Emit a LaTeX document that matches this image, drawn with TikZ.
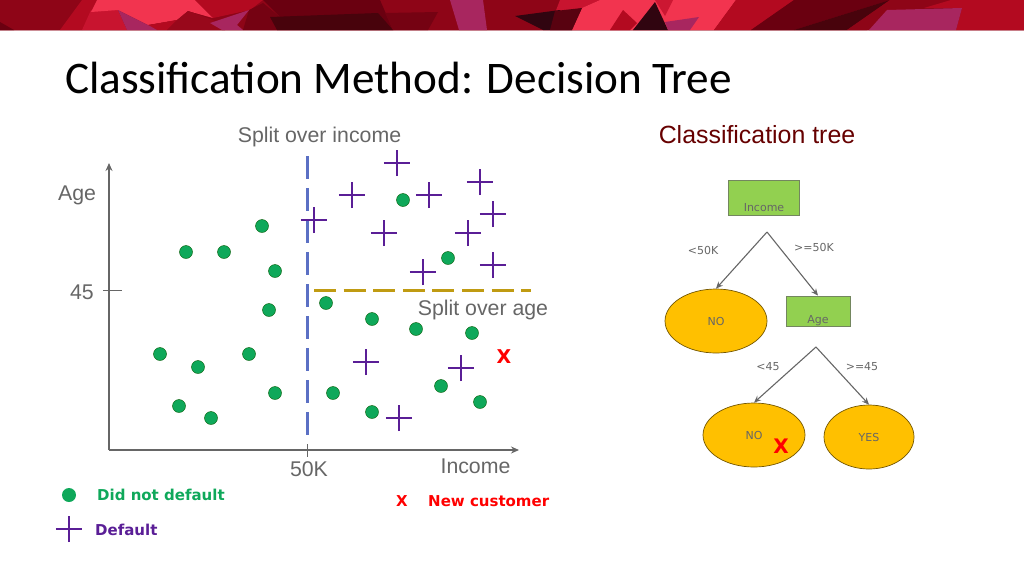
\documentclass[tikz,border=0pt]{standalone}
\usepackage{fontspec}
\setmainfont{Liberation Sans}
\newfontfamily\titlefont{Carlito}
\newfontfamily\treefont{DejaVu Sans}
\usetikzlibrary{shapes.geometric,shapes.misc,arrows.meta}
\definecolor{greyaxis}{HTML}{666666}
\definecolor{dotgreen}{HTML}{0FA85A}
\definecolor{plusviolet}{HTML}{5A1E96}
\definecolor{splitblue}{HTML}{5B70C4}
\definecolor{splitgold}{HTML}{C09B12}
\definecolor{boxgreen}{HTML}{92D050}
\definecolor{leafgold}{HTML}{FFC000}
\definecolor{bandbase}{HTML}{8E0517}
\definecolor{bandbright}{HTML}{F2344F}
\definecolor{bandred}{HTML}{B30A20}
\definecolor{bandcrim}{HTML}{C8142F}
\definecolor{bandpurple}{HTML}{A8265F}
\definecolor{banddark}{HTML}{6A0010}
\definecolor{banddeep}{HTML}{48030C}
\definecolor{bandblack}{HTML}{300510}
\tikzset{
  dot/.style = {shape=circle, draw=green!35!black, fill=dotgreen, line width=0.4pt, minimum size=13pt, inner sep=0pt},
  plus/.style = {shape=cross out, rotate=45, draw=plusviolet, line width=2pt, minimum size=18.4pt, inner sep=0pt, outer sep=0pt},
  axislabel/.style = {text=greyaxis, font=\fontsize{21.3}{25}\selectfont, anchor=base, inner sep=0pt},
  treelabel/.style = {text=greyaxis, font=\treefont\fontsize{11}{13}\selectfont, anchor=base, inner sep=0pt},
  keylabel/.style = {font=\treefont\bfseries\fontsize{15}{18}\selectfont, anchor=base west, inner sep=0pt},
  testbox/.style = {shape=rectangle, draw=greyaxis!70!boxgreen, fill=boxgreen, line width=0.8pt, inner sep=0pt},
  leaf/.style = {shape=ellipse, draw=black!55!leafgold, fill=leafgold, line width=0.7pt, inner sep=0pt},
  branch/.style = {draw=greyaxis, line width=1.1pt, -{Stealth[length=7pt,width=6pt]}},
  newmark/.style = {text=red, font=\treefont\bfseries\fontsize{19}{22}\selectfont, anchor=base, inner sep=0pt}
}
\begin{document}
\begin{tikzpicture}[x=1pt, y=-1pt]
  \useasboundingbox (0,0) rectangle (1024,576);
  % top band
  \fill[bandbase] (0,0) rectangle (1024,30);
  \fill[bandbase!45] (0,30) rectangle (1024,31);
  \fill[banddark] (0,22) -- (14,30) -- (0,30) -- cycle;
  \fill[bandred] (82,0) -- (97,0) -- (91,12) -- (82,30) -- (60,30) -- cycle;
  \fill[bandcrim] (91,10) -- (118,10) -- (127,30) -- (82,30) -- cycle;
  \fill[bandbright] (97,0) -- (195,0) -- (213,18) -- (188,11) -- (177,20) -- (148,25) -- (118,10) -- (91,12) -- cycle;
  \fill[bandred] (148,25) -- (177,20) -- (167,30) -- (157,30) -- cycle;
  \fill[bandpurple] (118,10) -- (150,26) -- (157,30) -- (127,30) -- cycle;
  \fill[bandred!85!black] (167,30) -- (177,20) -- (188,11) -- (213,20) -- (225,30) -- cycle;
  \fill[bandred] (195,0) -- (263,0) -- (250,10) -- (213,18) -- cycle;
  \fill[banddark!85!bandred] (249,10) -- (263,3) -- (280,17) -- (277,30) -- (243,30) -- cycle;
  \fill[bandpurple] (210,23) -- (249,10) -- (237,25) -- (243,30) -- (222,30) -- cycle;
  \fill[banddark] (263,0) -- (380,0) -- (393,30) -- (277,30) -- (280,17) -- cycle;
  \fill[banddeep] (270,17) -- (378,13) -- (393,30) -- (277,30) -- cycle;
  \fill[banddark!70!bandbase] (385,13) -- (438,12) -- (428,30) -- (393,30) -- cycle;
  \fill[bandpurple] (450,0) -- (483,0) -- (487,30) -- (459,30) -- cycle;
  \fill[bandcrim] (560,0) -- (600,0) -- (582,8) -- (555,13) -- cycle;
  \fill[bandbright] (600,0) -- (736,0) -- (714,30) -- (572,30) -- (582,8) -- cycle;
  \fill[bandblack] (515,16) -- (560,10) -- (572,30) -- (543,30) -- cycle;
  \fill[banddark!70!bandblack] (555,11) -- (582,8) -- (572,30) -- (550,30) -- cycle;
  \fill[bandcrim!90!bandbright] (655,0) -- (673,0) -- (665,16) -- cycle;
  \fill[bandred] (623,10) -- (637,23) -- (630,30) -- (610,30) -- cycle;
  \fill[bandblack] (655,2) -- (668,30) -- (633,30) -- cycle;
  \fill[bandpurple] (665,22) -- (699,17) -- (690,30) -- (668,30) -- cycle;
  \fill[bandred] (736,0) -- (794,0) -- (751,30) -- (714,30) -- cycle;
  \fill[banddark] (794,0) -- (890,0) -- (794,30) -- (751,30) -- cycle;
  \fill[banddeep] (890,0) -- (847,30) -- (794,30) -- cycle;
  \fill[bandbase] (890,0) -- (951,0) -- (924,8) -- (887,10) -- (867,30) -- (847,30) -- cycle;
  \fill[bandred] (951,0) -- (1024,0) -- (1024,30) -- (956,30) -- (962,8) -- (924,8) -- cycle;
  \fill[bandpurple] (887,10) -- (962,8) -- (956,30) -- (869,30) -- cycle;

  \node[text=black, font=\titlefont\fontsize{45.2}{50}\selectfont, anchor=base west, inner sep=0pt] (title) at (65,93) {Classification Method: Decision Tree};

  % axes
  \coordinate (origin) at (109,450);
  \coordinate (agetop) at (109,163);
  \coordinate (incomeend) at (519,450);
  \draw[draw=greyaxis, line width=2.6pt, line join=round, -{Stealth[length=8pt,width=7pt]}] (origin) -- (agetop);
  \draw[draw=greyaxis, line width=2.6pt, -{Stealth[length=8pt,width=7pt]}] (origin) -- (incomeend);
  \coordinate (tickagea) at (103,290);
  \coordinate (tickageb) at (122,290);
  \coordinate (tickinca) at (307,444);
  \coordinate (tickincb) at (307,457);
  \draw[draw=greyaxis, line width=0.6pt] (tickagea) -- (tickageb);
  \draw[draw=greyaxis, line width=0.6pt] (tickinca) -- (tickincb);

  % splits
  \coordinate (splitinca) at (307,156);
  \coordinate (splitincb) at (307,438);
  \coordinate (splitagea) at (314,290.5);
  \coordinate (splitageb) at (531,290.5);
  \draw[draw=splitblue, line width=3pt, dash pattern=on 23pt off 9pt] (splitinca) -- (splitincb);
  \draw[draw=splitgold, line width=2.6pt, dash pattern=on 22pt off 7.6pt] (splitagea) -- (splitageb);

  \node[axislabel] (splitinc) at (319.5,142) {Split over income};
  \node[axislabel] (agename) at (77,200) {Age};
  \node[axislabel] (agefive) at (82,299) {45};
  \node[axislabel] (fiftyk) at (309,476) {50K};
  \node[axislabel] (incname) at (475.5,473) {Income};
  \node[axislabel] (splitage) at (483,315) {Split over age};
  \node[text=red!40!black, font=\fontsize{24.9}{29}\selectfont, anchor=base, inner sep=0pt] (treename) at (757,143) {Classification tree};

  % points
  \foreach \px/\py [count=\i] in {262/226, 186/252, 224/252, 275/271, 269/310, 160/354, 198/367,
      249/354, 275/393, 179/406, 211/418, 403/200, 448/258, 326/303, 372/319, 416/329, 472/333,
      333/393, 441/386, 480/402, 372/412}
    \node[dot] (dot\i) at (\px,\py) {};
  \foreach \px/\py [count=\i] in {397/163, 352/195, 429/195, 480/182, 493/214, 314/220, 384/233,
      468/233, 423/272, 493/265, 366/362, 461/368, 399/418}
    \node[plus] (plus\i) at (\px,\py) {};
  \node[newmark] (newpoint) at (504,363) {X};

  % tree
  \node[testbox, minimum width=71pt, minimum height=35pt] (income) at (763.5,197.5) {};
  \node[treelabel] (incometxt) at (764,211) {Income};
  \node[testbox, minimum width=64pt, minimum height=30pt] (age) at (818,311) {};
  \node[treelabel] (agetxt) at (818,323) {Age};
  \node[leaf, minimum width=102pt, minimum height=64pt, treelabel, anchor=center] (nofirst) at (716,321) {NO};
  \node[leaf, minimum width=102pt, minimum height=64pt, treelabel, anchor=center] (nosecond) at (754,435) {NO};
  \node[leaf, minimum width=90pt, minimum height=64pt, treelabel, anchor=center] (yes) at (869,437) {YES};
  \coordinate (forkone) at (767,232);
  \coordinate (forktwo) at (816,347);
  \draw[branch] (forkone) -- (nofirst.north);
  \draw[branch] (forkone) -- (age.north);
  \draw[branch] (forktwo) -- (nosecond.north);
  \draw[branch] (forktwo) -- (yes.north);
  \node[treelabel] (lowinc) at (703,254) {<50K};
  \node[treelabel] (highinc) at (814,251) {>=50K};
  \node[treelabel] (lowage) at (768,370) {<45};
  \node[treelabel] (highage) at (862,370) {>=45};
  \node[newmark, font=\treefont\bfseries\fontsize{20}{24}\selectfont] (treemark) at (781,453.5) {X};

  % legend
  \node[dot, minimum size=14pt, draw=none] (keydot) at (69,495) {};
  \node[keylabel, text=dotgreen] (keydottxt) at (97,500.5) {Did not default};
  \node[plus] (keyplus) at (69,529) {};
  \node[keylabel, text=plusviolet] (keyplustxt) at (95,535.5) {Default};
  \node[keylabel, text=red] (keyx) at (396,506.5) {X};
  \node[keylabel, text=red] (keyxtxt) at (428,506.5) {New customer};
\end{tikzpicture}
\end{document}
